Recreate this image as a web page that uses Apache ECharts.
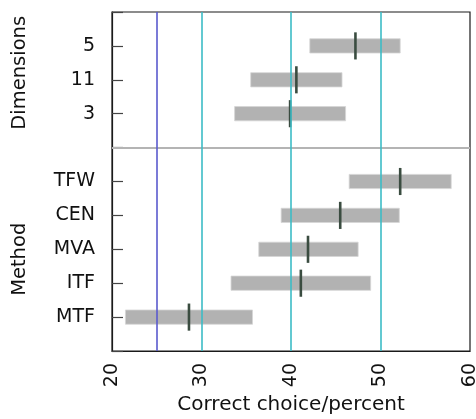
<!DOCTYPE html>
<html>
<head>
<meta charset="utf-8">
<script src="https://cdn.jsdelivr.net/npm/echarts@6/dist/echarts.min.js"></script>
<style>html,body{margin:0;padding:0;background:#fff}#c{width:476px;height:419px}</style>
</head>
<body>
<div id="c"></div>
<script>
// ---- data (top to bottom within each group) ----
var dimLabels = ['5', '11', '3'];
var dimLow  = [42.1, 35.5, 33.7];
var dimHigh = [52.2, 45.7, 46.1];
var dimMid  = [47.2, 40.6, 39.9];

var methodLabels = ['TFW', 'CEN', 'MVA', 'ITF', 'MTF'];
var methodLow  = [46.5, 38.9, 36.4, 33.3, 21.5];
var methodHigh = [57.9, 52.1, 47.5, 48.9, 35.7];
var methodMid  = [52.2, 45.5, 41.9, 41.1, 28.6];

var groupNames = ['Dimensions', 'Method'];
var chanceLine = 25;
var refLines = [30, 40, 50];
var xMin = 20, xMax = 60, xStep = 10;
var xTitle = 'Correct choice/percent';

// ---- build rows: methods at 1..5 (bottom up), separator at 6, dimensions at 7..9 ----
var nM = methodLabels.length, nD = dimLabels.length;
var sepRow = nM + 1;
var yMax = nM + nD + 2;
var rowLabel = {};
var rows = [];
methodLabels.forEach(function (l, i) {
  var r = nM - i;
  rowLabel[r] = l;
  rows.push([methodLow[i], methodHigh[i], methodMid[i], r]);
});
dimLabels.forEach(function (l, i) {
  var r = sepRow + nD - i;
  rowLabel[r] = l;
  rows.push([dimLow[i], dimHigh[i], dimMid[i], r]);
});

var FONT = 'DejaVu Sans';
var chart = echarts.init(document.getElementById('c'), null, {renderer: 'canvas'});

var option = {
  animation: false,
  backgroundColor: '#fff',
  grid: {left: 112, right: 6, top: 12, bottom: 68, containLabel: false, outerBoundsMode: 'none',
         show: true, borderColor: '#1a1a1a', borderWidth: 1.2, backgroundColor: 'transparent'},
  xAxis: {
    type: 'value', min: xMin, max: xMax, interval: xStep,
    name: xTitle, nameLocation: 'middle', nameGap: 44,
    nameTextStyle: {fontFamily: FONT, fontSize: 20, color: '#111'},
    axisLine: {show: true, lineStyle: {color: '#1a1a1a', width: 1.2}},
    axisTick: {show: false},
    splitLine: {show: false},
    axisLabel: {rotate: 90, margin: 12, fontFamily: FONT, fontSize: 19, color: '#111', hideOverlap: false}
  },
  yAxis: {
    type: 'value', min: 0, max: yMax, interval: 1,
    axisLine: {show: true, lineStyle: {color: '#1a1a1a', width: 1.2}},
    axisTick: {show: true, inside: true, length: 11, lineStyle: {color: '#444', width: 1.2}},
    splitLine: {show: false},
    axisLabel: {
      margin: 17, fontFamily: FONT, fontSize: 19, color: '#111',
      formatter: function (v) { return rowLabel[v] || ''; }
    }
  },
  series: [
    {
      type: 'line', data: [], z: 1,
      markLine: {
        silent: true, symbol: 'none', label: {show: false},
        lineStyle: {type: 'solid', color: '#b4b4b4', width: 2},
        data: [{yAxis: sepRow}]
      }
    },
    {
      type: 'line', data: [], z: 2,
      markLine: {
        silent: true, symbol: 'none', label: {show: false},
        data: [{xAxis: chanceLine, lineStyle: {type: 'solid', color: '#5a5acd', width: 1.6}}].concat(
          refLines.map(function (v) { return {xAxis: v, lineStyle: {type: 'solid', color: '#3cbcc6', width: 1.6}}; })
        )
      }
    },
    {
      type: 'custom', z: 3,
      data: rows,
      renderItem: function (params, api) {
        var lo = api.coord([api.value(0), api.value(3)]);
        var hi = api.coord([api.value(1), api.value(3)]);
        var mid = api.coord([api.value(2), api.value(3)]);
        var rowH = api.size([0, 1])[1];
        var bh = rowH * 0.42, mh = rowH * 0.8;
        return {
          type: 'group',
          children: [
            {type: 'rect', shape: {x: lo[0], y: lo[1] - bh / 2, width: hi[0] - lo[0], height: bh},
             style: {fill: '#b2b2b2', stroke: '#d6d6d6', lineWidth: 0.8}},
            {type: 'rect', shape: {x: mid[0] - 1.3, y: mid[1] - mh / 2, width: 2.6, height: mh},
             style: {fill: '#3a4c40'}}
          ]
        };
      }
    }
  ]
};
chart.setOption(option);

// group labels near the centre of their row ranges
var dimCenter = chart.convertToPixel({yAxisIndex: 0}, sepRow + (nD + 1) / 2);
var metCenter = chart.convertToPixel({yAxisIndex: 0}, (nM + 1) / 2);
chart.setOption({
  graphic: [
    {type: 'text', x: 20, y: dimCenter - 7, rotation: Math.PI / 2,
     style: {text: groupNames[0], font: '19.5px "' + FONT + '"', fill: '#111', align: 'center', verticalAlign: 'middle'}},
    {type: 'text', x: 20, y: metCenter + 10, rotation: Math.PI / 2,
     style: {text: groupNames[1], font: '19.5px "' + FONT + '"', fill: '#111', align: 'center', verticalAlign: 'middle'}}
  ]
});
</script>
</body>
</html>
